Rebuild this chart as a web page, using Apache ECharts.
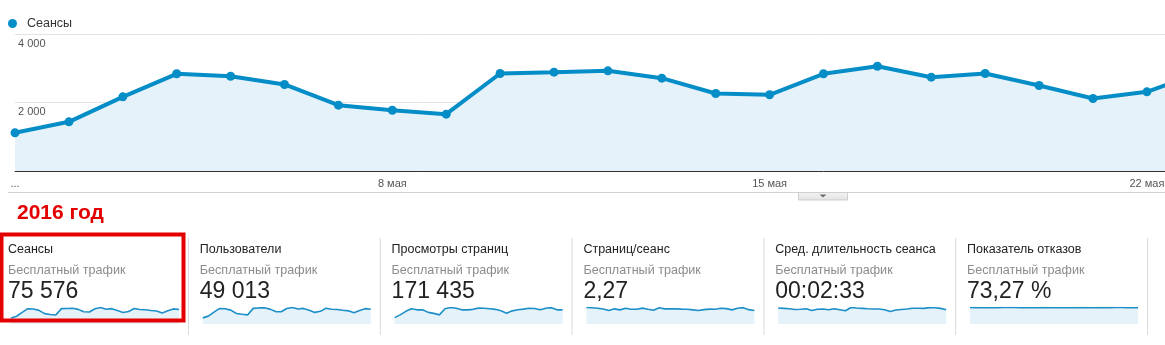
<!DOCTYPE html>
<html>
<head>
<meta charset="utf-8">
<script src="https://cdn.jsdelivr.net/npm/echarts@6/dist/echarts.min.js"></script>
<style>
html,body{margin:0;padding:0;overflow:hidden;background:#fff;width:1165px;height:345px}
#c{width:1700px;height:345px}
</style>
</head>
<body>
<div id="c"></div>
<script>
// ---------- DATA ----------
const categories = ['1 мая','2 мая','3 мая','4 мая','5 мая','6 мая','7 мая','8 мая','9 мая','10 мая',
  '11 мая','12 мая','13 мая','14 мая','15 мая','16 мая','17 мая','18 мая','19 мая','20 мая',
  '21 мая','22 мая','23 мая','24 мая','25 мая','26 мая','27 мая','28 мая','29 мая','30 мая','31 мая'];
const firstTickLabel = '...';
const sessions = [1115,1436,2166,2838,2768,2526,1922,1775,1659,2847,2885,2925,2710,2263,2225,2838,3060,2739,2847,2496,2117,2312,2880,2700,2650,2500,2400,2050,2450,2800,2700];
const users = [723,931,1404,1839,1794,1637,1245,1150,1075,1845,1900,1910,1756,1466,1442,1839,1950,1775,1845,1617,1372,1498,1866,1750,1717,1620,1555,1328,1588,1814,1750];
const pageviews = [2570,3680,5110,6130,5720,5720,4700,4290,3680,6130,6660,6330,5720,5720,5920,6420,6330,6130,5920,5310,4370,5310,5720,6010,6330,6250,5720,6330,6600,5720,5720];
const pagesPerSession = [2.45,2.41,2.35,2.22,2.00,2.25,2.10,2.33,2.18,2.18,2.36,2.18,2.03,2.42,2.25,2.25,2.25,2.21,2.18,2.10,2.00,2.13,2.21,2.18,2.33,2.28,2.10,2.33,2.43,2.13,2.00];
const avgDurationSec = [164,160,156,148,151,156,139,151,153,146,156,146,136,169,164,160,156,154,153,146,128,143,149,153,162,162,160,168,166,160,146];
const bounceRate = [73.9,73.5,73.0,72.8,73.1,73.4,73.6,73.8,73.9,72.9,72.7,72.8,73.0,73.4,73.5,73.0,72.6,73.1,73.0,73.3,73.6,73.4,73.0,73.2,73.3,73.5,73.6,73.8,73.4,73.1,73.2];
const yTicks = [0, 2000, 4000];
const legendName = 'Сеансы';
const yearLabel = '2016 год';
const cardTitles = ['Сеансы','Пользователи','Просмотры страниц','Страниц/сеанс','Сред. длительность сеанса','Показатель отказов'];
const cardSegment = 'Бесплатный трафик';
const cardTotals = ['75 576','49 013','171 435','2,27','00:02:33','73,27 %'];

// ---------- CHART ----------
const FONT = '"Liberation Sans", Arial, sans-serif';
const BLUE = '#058dc7';
const AREA = '#e6f2f9';
const sparkData = [sessions, users, pageviews, pagesPerSession, avgDurationSec, bounceRate];
const cardLeft = i => 8 + i * 191.8;
const fmtThousands = v => String(v).replace(/\B(?=(\d{3})+(?!\d))/g, ' ');

const grids = [{left: 15, top: 34, width: 1617, height: 137}];
const xAxes = [{
  type: 'category', gridIndex: 0, data: categories, boundaryGap: false,
  axisLine: {lineStyle: {color: '#333', width: 1}},
  axisTick: {show: false},
  axisLabel: {interval: 6, margin: 7, color: '#555', fontSize: 11, fontFamily: FONT,
    formatter: (v, i) => i === 0 ? firstTickLabel : v}
}];
const yAxes = [{
  type: 'value', gridIndex: 0, min: yTicks[0], max: yTicks[yTicks.length - 1], interval: yTicks[1] - yTicks[0],
  axisLine: {show: false}, axisTick: {show: false},
  splitLine: {lineStyle: {color: '#e3e3e3', width: 1}},
  axisLabel: {inside: true, margin: 3, showMinLabel: false, color: '#555', fontSize: 11, fontFamily: FONT,
    verticalAlign: 'top', padding: [4, 0, 0, 0], formatter: fmtThousands}
}];
const series = [{
  name: legendName, type: 'line', xAxisIndex: 0, yAxisIndex: 0, data: sessions,
  symbol: 'circle', symbolSize: 9, showAllSymbol: true,
  lineStyle: {color: BLUE, width: 4},
  itemStyle: {color: BLUE},
  areaStyle: {color: AREA, opacity: 1},
  z: 5
}];

const graphics = [];
sparkData.forEach((arr, i) => {
  const gi = i + 1;
  grids.push({left: cardLeft(i) + 3, top: 307.5, width: 168, height: 16.5});
  xAxes.push({type: 'category', gridIndex: gi, data: categories, boundaryGap: false, show: false});
  yAxes.push({type: 'value', gridIndex: gi, min: 0, max: 'dataMax', show: false, splitLine: {show: false}});
  series.push({
    name: cardTitles[i] + ' · ' + cardSegment, type: 'line', xAxisIndex: gi, yAxisIndex: gi, data: arr,
    showSymbol: false, symbol: 'none',
    lineStyle: {color: '#1d8fc8', width: 1.6},
    areaStyle: {color: AREA, opacity: 1}
  });
  const x = cardLeft(i);
  graphics.push(
    {type: 'text', left: x, top: 243.5, style: {text: cardTitles[i], font: '12.5px ' + FONT, fill: '#222'}},
    {type: 'text', left: x, top: 264.5, style: {text: cardSegment, font: '12.6px ' + FONT, fill: '#8c8c8c'}},
    {type: 'text', left: x, top: 280.5, style: {text: cardTotals[i], font: '23px ' + FONT, fill: '#222'}},
    {type: 'line', shape: {x1: x + 180.5, y1: 238, x2: x + 180.5, y2: 335}, style: {stroke: '#dcdcdc', lineWidth: 1}}
  );
});

graphics.push(
  {type: 'line', shape: {x1: 8, y1: 192.5, x2: 1700, y2: 192.5}, style: {stroke: '#d2d2d2', lineWidth: 1}},
  {type: 'rect', shape: {x: 798.5, y: 192.5, width: 49, height: 7.5},
    style: {fill: new echarts.graphic.LinearGradient(0, 0, 0, 1, [{offset: 0, color: '#f4f4f4'}, {offset: 1, color: '#e2e2e2'}]),
      stroke: '#cfcfcf', lineWidth: 1}},
  {type: 'polygon', shape: {points: [[819.5, 194.5], [826.5, 194.5], [823, 197.5]]}, style: {fill: '#6f6f6f'}},
  {type: 'text', left: 17, top: 202.5, style: {text: yearLabel, font: 'bold 21px ' + FONT, fill: '#e30000'}},
  {type: 'rect', shape: {x: 1.5, y: 234.5, width: 182, height: 86}, style: {fill: 'none', stroke: '#e50000', lineWidth: 4}, z: 100}
);

const chart = echarts.init(document.getElementById('c'), null, {renderer: 'canvas'});
chart.setOption({
  animation: false,
  backgroundColor: '#fff',
  textStyle: {fontFamily: FONT},
  legend: {
    data: [legendName], left: 3, top: 12, icon: 'circle', itemWidth: 9, itemHeight: 9,
    selectedMode: false,
    textStyle: {fontSize: 12.5, color: '#333', fontFamily: FONT, padding: [0, 0, 0, 5]}
  },
  grid: grids,
  xAxis: xAxes,
  yAxis: yAxes,
  series: series,
  graphic: graphics
});
</script>
</body>
</html>
